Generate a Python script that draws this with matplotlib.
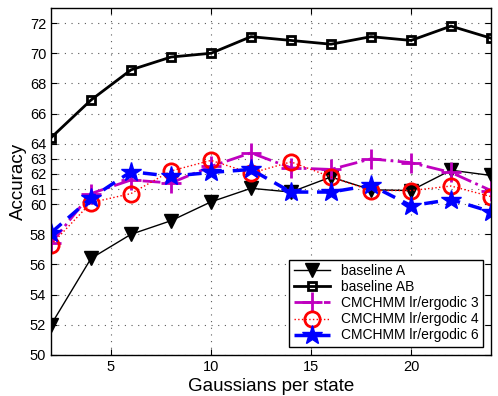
import matplotlib
matplotlib.use("Agg")
import matplotlib.pyplot as plt

plt.rcParams['font.family'] = ['Liberation Sans', 'DejaVu Sans']

# Gaussians per state
gauss = [2, 4, 6, 8, 10, 12, 14, 16, 18, 20, 22, 24]

base_a = [52.0, 56.4, 58.0, 58.9, 60.15, 61.05, 60.8, 61.8, 60.95, 60.9, 62.25, 61.9]
base_ab = [64.4, 66.9, 68.9, 69.75, 70.0, 71.1, 70.85, 70.6, 71.1, 70.85, 71.8, 71.0]
cm3 = [57.4, 60.7, 61.6, 61.4, 62.5, 63.4, 62.4, 62.3, 63.0, 62.75, 62.1, 60.9]
cm4 = [57.3, 60.1, 60.7, 62.2, 62.9, 62.05, 62.8, 61.8, 60.9, 60.9, 61.2, 60.5]
cm6 = [58.1, 60.4, 62.15, 61.85, 62.1, 62.3, 60.8, 60.8, 61.25, 59.9, 60.3, 59.5]

yticks = [50, 52, 54, 56, 58, 60, 61, 62, 63, 64, 66, 68, 70, 72]
xticks = [5, 10, 15, 20]

fig = plt.figure(figsize=(4.98, 3.96), dpi=100)
ax = fig.add_axes([51 / 498, 1 - 355 / 396, 440 / 498, 347 / 396])

ax.plot(gauss, base_a, color='k', lw=1, marker='v', ms=10, mfc='k', mec='k',
        label='baseline A')
ax.plot(gauss, base_ab, color='k', lw=2, marker='s', ms=6, mfc='none', mec='k',
        mew=2, label='baseline AB')
ax.plot(gauss, cm3, color=(0.75, 0, 0.75), lw=2, ls='-.', marker='+', ms=15,
        mew=2, label='CMCHMM lr/ergodic 3')
ax.plot(gauss, cm4, color='r', lw=1, ls=':', marker='o', ms=11, mfc='none',
        mew=2, label='CMCHMM lr/ergodic 4')
ax.plot(gauss, cm6, color='b', lw=2.5, ls=(0, (4, 2.5)), marker='*', ms=15,
        mfc='b', mec='b', label='CMCHMM lr/ergodic 6')

ax.set_xlim(2, 24)
ax.set_ylim(50, 73)
ax.set_xticks(xticks)
ax.set_yticks(yticks)
ax.tick_params(direction='in', labelsize=10.5, length=4, top=True, right=True)
ax.grid(True, ls=(0, (1, 5)), color='0.35', lw=0.8)
for s in ax.spines.values():
    s.set_linewidth(1)

ax.set_xlabel('Gaussians per state', fontsize=13.5, labelpad=3)
ax.set_ylabel('Accuracy', fontsize=13.5, labelpad=2)

leg = ax.legend(loc='lower right', fontsize=10, frameon=True, fancybox=False,
                edgecolor='k', framealpha=1, borderpad=0.3, labelspacing=0.15,
                handlelength=2.6, borderaxespad=0.6)
leg.get_frame().set_linewidth(1)

fig.savefig('out.png', dpi=100)
